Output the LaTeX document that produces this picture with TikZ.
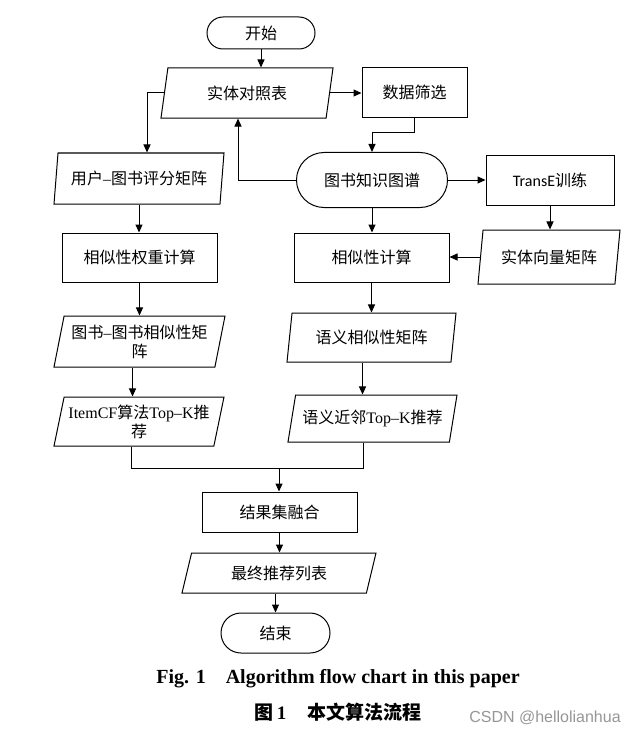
\documentclass[tikz,border=0pt]{standalone}
\usepackage{fontspec}
\setmainfont{Noto Sans CJK SC}
\newfontfamily\tmfont{Liberation Serif}
\newfontfamily\calfont{Carlito}
\newfontfamily\arfont{Liberation Sans}
\usetikzlibrary{shapes.geometric,shapes.misc,arrows.meta}
\definecolor{wmgray}{RGB}{150,150,150}
\tikzset{
  box/.style={draw, line width=1bp, rectangle, inner sep=2bp, align=center,
    font=\fontsize{16bp}{19bp}\selectfont},
  term/.style={box, rounded rectangle},
  para/.style 2 args={box, trapezium, trapezium stretches body,
    trapezium left angle=#1, trapezium right angle=#2},
  arr/.style={line width=1bp, -{Triangle[length=8bp,width=7bp]}},
  ln/.style={line width=1bp}
}
\begin{document}
\begin{tikzpicture}[x=1bp,y=-1bp]
\useasboundingbox (0,0) rectangle (640,734);
% nodes
\node[term, minimum width=112bp, minimum height=32bp] (start) at (261,33) {开始};
\node[para={70}{110}, minimum width=172bp, minimum height=50bp] (p1) at (247,93) {实体对照表};
\node[box, minimum width=105bp, minimum height=49bp] (r1) at (414.5,92.5) {数据筛选};
\node[term, minimum width=155bp, minimum height=55bp] (t2) at (372,180) {图书知识图谱};
\node[box, minimum width=128bp, minimum height=50bp] (r2) at (550,180) {{\calfont TransE}训练};
\node[para={75}{105}, minimum width=142bp, minimum height=54bp] (p2) at (549,257) {实体向量矩阵};
\node[box, minimum width=155bp, minimum height=49bp] (r3) at (371.5,257.5) {相似性计算};
\node[para={75}{105}, minimum width=169bp, minimum height=49bp] (p3) at (371.5,337.5) {语义相似性矩阵};
\node[para={70}{110}, minimum width=169bp, minimum height=47bp] (p4) at (372.5,418.5) {语义近邻{\tmfont Top–K}推荐};
\node[para={78}{102}, minimum width=170bp, minimum height=51bp] (p5) at (139,178.5) {用户{\tmfont –}图书评分矩阵};
\node[box, minimum width=155bp, minimum height=49bp] (r4) at (139.5,257.5) {相似性权重计算};
\node[para={75}{105}, minimum width=171bp, minimum height=51bp] (p6) at (139.5,341.5) {图书{\tmfont –}图书相似性矩\\阵};
\node[para={75}{105}, minimum width=170bp, minimum height=49bp] (p7) at (139,421.5) {{\tmfont ItemCF}算法{\tmfont Top–K}推\\荐};
\node[box, minimum width=155bp, minimum height=40bp] (r5) at (279.5,512) {结果集融合};
\node[para={63}{117}, minimum width=194bp, minimum height=40bp] (p8) at (279,573) {最终推荐列表};
\node[term, minimum width=113bp, minimum height=40bp] (t3) at (275.5,633) {结束};
% captions
\node[font=\tmfont\bfseries\fontsize{20bp}{22bp}\selectfont] (cap1) at (338,679) {Fig. 1\hspace{1em}Algorithm flow chart in this paper};
\node[font=\bfseries\fontsize{19bp}{22bp}\selectfont] (cap2) at (338,712) {图\,{\tmfont 1}\hspace{1.1em}本文算法流程};
\node[font=\arfont\fontsize{16bp}{19bp}\selectfont, text=wmgray] (wm) at (545,718) {CSDN @hellolianhua};
% connectors
\coordinate (j) at (279,468);
\draw[arr] (start.south) -- (start.south |- p1.north);
\draw[arr] (p1.east) -- (p1.east -| r1.west);
\draw[arr] (p1.west) -| ([xshift=8bp]p5.north);
\draw[arr] (r1.south) -- ++(0,15) -| (t2.north);
\draw[arr] (t2.west) -| ([xshift=-9bp]p1.south);
\draw[arr] (t2.east) -- (t2.east -| r2.west);
\draw[arr] (r2.south) -- (r2.south |- p2.north);
\draw[arr] (p2.west) -- (p2.west -| r3.east);
\draw[arr] (t2.south) -- (t2.south |- r3.north);
\draw[arr] (r3.south) -- (r3.south |- p3.north);
\draw[arr] ([xshift=-9bp]p3.south) -- ([xshift=-9bp]p3.south |- p4.north);
\draw[arr] (p5.south) -- (p5.south |- r4.north);
\draw[arr] (r4.south) -- (r4.south |- p6.north);
\draw[arr] ([xshift=-7bp]p6.south) -- ([xshift=-7bp]p6.south |- p7.north);
\draw[ln] ([xshift=-9.5bp]p4.south) |- (j);
\draw[ln] ([xshift=-7.5bp]p7.south) |- (j);
\draw[arr] (j) -- (j |- r5.north);
\draw[arr] (r5.south) -- (r5.south |- p8.north);
\draw[arr] (t3.north |- p8.south) -- (t3.north);
\end{tikzpicture}
\end{document}
